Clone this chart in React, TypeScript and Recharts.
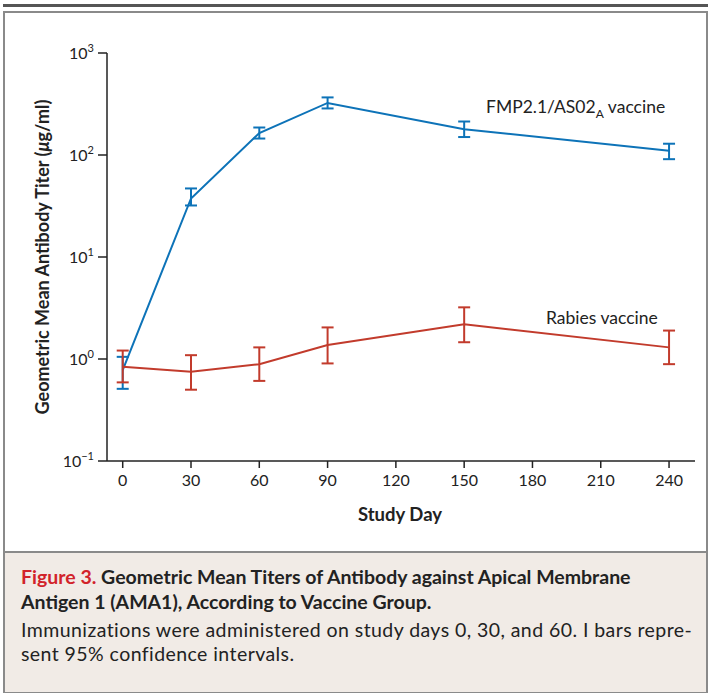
import React from 'react';
import { LineChart, Line, XAxis, YAxis, ErrorBar } from 'recharts';

// study days and geometric mean titers (µg/ml)
const days = [0, 30, 60, 90, 150, 240];
const fmpMean = [0.78, 37.5, 164, 324, 179, 110];
const fmpLow = [0.51, 32, 145, 286, 150, 91];
const fmpHigh = [1.05, 47, 186, 367, 213, 129];
const rabiesMean = [0.84, 0.75, 0.89, 1.37, 2.19, 1.3];
const rabiesLow = [0.59, 0.5, 0.61, 0.905, 1.46, 0.89];
const rabiesHigh = [1.21, 1.09, 1.3, 2.04, 3.21, 1.9];

const xTicks = [0, 30, 60, 90, 120, 150, 180, 210, 240];
const yTicks = [0.1, 1, 10, 100, 1000];
const yExponents = ['−1', '0', '1', '2', '3'];

const BLUE = '#0d73b8';
const RED = '#c23b2c';
const FONT = 'Lato, "Open Sans", sans-serif';

const data = days.map((d, i) => ({
  day: d,
  fmp: fmpMean[i],
  fmpErr: [fmpMean[i] - fmpLow[i], fmpHigh[i] - fmpMean[i]],
  rabies: rabiesMean[i],
  rabiesErr: [rabiesMean[i] - rabiesLow[i], rabiesHigh[i] - rabiesMean[i]],
}));

const PowerTick = (props: any) => {
  const { x, y, payload } = props;
  const idx = yTicks.indexOf(payload.value);
  return (
    <text x={x} y={y} dy="0.4em" textAnchor="end" fill="#222" fontSize={16} fontFamily={FONT}>
      <tspan>10</tspan>
      <tspan dy={-7} fontSize={11}>{yExponents[idx]}</tspan>
    </text>
  );
};

const App: React.FC = () => {
  return (
    <div style={{ position: 'absolute', left: 0, top: 0, width: 708, height: 693, background: '#fff', fontFamily: FONT, overflow: 'hidden' }}>
      {/* top rule and frames */}
      <div style={{ position: 'absolute', left: 3, top: 4, width: 705, height: 3, background: '#555' }} />
      <div style={{ position: 'absolute', left: 3, top: 11, width: 701, height: 540, border: '2px solid #8a8a8a', borderBottom: 'none' }} />
      <div style={{ position: 'absolute', left: 3, top: 551, width: 701, height: 139, background: '#f1ebe6', border: '2px solid #8a8a8a' }} />

      <div style={{ position: 'absolute', left: 0, top: 0 }}>
        <LineChart width={708} height={545} data={data} margin={{ top: 53, right: 13, left: 0, bottom: 24 }}>
          <XAxis
            dataKey="day"
            type="number"
            domain={[-6.9, 251.4]}
            ticks={xTicks}
            allowDataOverflow
            stroke="#222"
            strokeWidth={1.5}
            tickSize={7}
            tickMargin={7}
            height={60}
            tick={{ fill: '#222', fontSize: 16, fontFamily: FONT }}
          />
          <YAxis
            scale="log"
            domain={[0.1, 1000]}
            ticks={yTicks}
            allowDataOverflow
            width={107}
            stroke="#222"
            strokeWidth={1.5}
            tickSize={9}
            tickMargin={4}
            tick={<PowerTick />}
          />
          <Line dataKey="fmp" stroke={BLUE} strokeWidth={2} dot={false} isAnimationActive={false}>
            <ErrorBar dataKey="fmpErr" width={6} stroke={BLUE} strokeWidth={2} direction="y" isAnimationActive={false} />
          </Line>
          <Line dataKey="rabies" stroke={RED} strokeWidth={2} dot={false} isAnimationActive={false}>
            <ErrorBar dataKey="rabiesErr" width={6} stroke={RED} strokeWidth={2} direction="y" isAnimationActive={false} />
          </Line>
        </LineChart>
      </div>

      {/* series labels */}
      <div style={{ position: 'absolute', left: 486, top: 96, fontSize: 17.5, color: '#222', whiteSpace: 'nowrap' }}>
        FMP2.1/AS02<sub style={{ fontSize: 12 }}>A</sub> vaccine
      </div>
      <div style={{ position: 'absolute', left: 546, top: 307, fontSize: 17.5, color: '#222', whiteSpace: 'nowrap' }}>
        Rabies vaccine
      </div>

      {/* axis titles */}
      <div style={{ position: 'absolute', left: 400, top: 514, transform: 'translate(-50%, -50%)', fontSize: 18.5, fontWeight: 700, color: '#222', whiteSpace: 'nowrap' }}>
        Study Day
      </div>
      <div style={{ position: 'absolute', left: 42, top: 257, transform: 'translate(-50%, -50%) rotate(-90deg)', fontSize: 18, fontWeight: 700, color: '#222', whiteSpace: 'nowrap' }}>
        Geometric Mean Antibody Titer (<i>μ</i>g/ml)
      </div>

      {/* caption */}
      <div style={{ position: 'absolute', left: 21, top: 564, width: 690, color: '#222' }}>
        <div style={{ fontSize: 19.5, fontWeight: 700, lineHeight: '25px', whiteSpace: 'nowrap' }}>
          <span style={{ color: '#d2232a' }}>Figure 3.</span> Geometric Mean Titers of Antibody against Apical Membrane
          <br />
          Antigen 1 (AMA1), According to Vaccine Group.
        </div>
        <div style={{ fontSize: 19.5, lineHeight: '24px', marginTop: 4, whiteSpace: 'nowrap', letterSpacing: 0.43 }}>
          Immunizations were administered on study days 0, 30, and 60. I bars repre-
          <br />
          sent 95% confidence intervals.
        </div>
      </div>
    </div>
  );
};

export default App;
